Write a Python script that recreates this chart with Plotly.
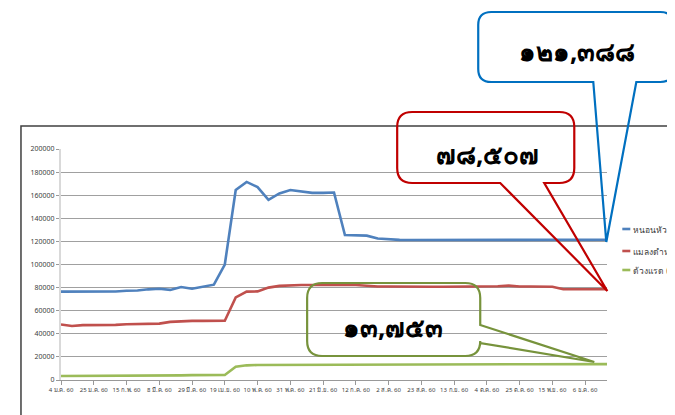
import pandas as pd
import plotly.graph_objects as go

# ---------------- data ----------------
series_names = ["หนอนหัวดำ (ไร่)", "แมลงดำหนาม (ไร่)", "ด้วงแรด (ไร่)"]
series_colors = ["#4F81BD", "#C0504D", "#9BBB59"]

dates = pd.date_range("2017-01-04", periods=51, freq="7D")

blue_vals = [76500, 76500, 76500, 76500, 76500, 76600, 77300, 77500, 78500, 79000,
             78000, 80500, 79000, 81000, 82500, 100000, 164500, 171500, 167000, 156000,
             161500, 164500, 163500, 162000, 162000, 162300, 125500, 125000, 125000, 122500,
             121800, 121300, 121200, 121200, 121200, 121300, 121300, 121300, 121400, 121400,
             121500, 121700, 121600, 121500, 121500, 121500, 121400, 121400, 121400, 121400,
             121388]
red_vals = [48000, 46800, 47500, 47500, 47600, 47700, 48300, 48600, 48700, 48800,
            50300, 51000, 51200, 51200, 51200, 51300, 71500, 76500, 76700, 80000,
            81500, 82000, 82200, 82300, 82500, 82500, 82500, 82300, 81500, 81000,
            81000, 80800, 80800, 80800, 80800, 80800, 80800, 80900, 81000, 81100,
            81200, 81700, 81000, 81000, 81000, 80800, 78600, 78507, 78507, 78507,
            78507]
green_vals = [3500, 3500, 3500, 3500, 3500, 3500, 3500, 3500, 3500, 3500,
              3600, 4000, 4200, 4300, 4300, 4400, 11500, 12700, 13000, 13000,
              13000, 13100, 13100, 13100, 13100, 13100, 13100, 13100, 13100, 13200,
              13200, 13200, 13200, 13200, 13200, 13200, 13200, 13200, 13200, 13300,
              13300, 13400, 13600, 13700, 13700, 13700, 13700, 13750, 13750, 13753,
              13753]

tick_dates = pd.date_range("2017-01-04", periods=17, freq="21D")
tick_labels = ["4 ม.ค. 60", "25 ม.ค. 60", "15 ก.พ. 60", "8 มี.ค. 60", "29 มี.ค. 60",
               "19 เม.ย. 60", "10 พ.ค. 60", "31 พ.ค. 60", "21 มิ.ย. 60", "12 ก.ค. 60",
               "2 ส.ค. 60", "23 ส.ค. 60", "13 ก.ย. 60", "4 ต.ค. 60", "25 ต.ค. 60",
               "15 พ.ย. 60", "6 ธ.ค. 60"]
y_ticks = [0, 20000, 40000, 60000, 80000, 100000, 120000, 140000, 160000, 180000, 200000]

callout_texts = ["๑๒๑,๓๘๘", "๗๘,๕๐๗", "๑๓,๗๕๓"]
callout_colors = ["#0070C0", "#C00000", "#77933C"]

# ---------------- layout helpers ----------------
W, H = 675, 415
OX, OY = 8, 8            # page body offset of the figure
PL, PT, PRX, PBY = 61, 149, 606.7, 380   # plot area in screen pixels
L, T = PL - OX, PT - OY
R, B = W - (PRX - OX), H - (PBY - OY)
PW, PH = PRX - PL, PBY - PT


def px(x):
    return (x - PL) / PW


def py(y):
    return (PBY - y) / PH


def P(x, y):
    return f"{px(x):.5f},{py(y):.5f}"


def bubble(x0, y0, x1, y1, r, side, a, b, tip):
    s = f"M{P(x0 + r, y0)} L{P(x1 - r, y0)} Q{P(x1, y0)} {P(x1, y0 + r)} "
    if side == "right":
        s += f"L{P(x1, a)} L{P(*tip)} L{P(x1, b)} "
    s += f"L{P(x1, y1 - r)} Q{P(x1, y1)} {P(x1 - r, y1)} "
    if side == "bottom":
        s += f"L{P(b, y1)} L{P(*tip)} L{P(a, y1)} "
    s += f"L{P(x0 + r, y1)} Q{P(x0, y1)} {P(x0, y1 - r)} "
    s += f"L{P(x0, y0 + r)} Q{P(x0, y0)} {P(x0 + r, y0)} Z"
    return s


fig = go.Figure()
for name, vals, col in zip(series_names, [blue_vals, red_vals, green_vals], series_colors):
    fig.add_trace(go.Scatter(x=dates, y=vals, mode="lines", name=name,
                             line=dict(color=col, width=2.6), showlegend=False))

shapes = []
annotations = []

# chart-area frame (extends beyond view)
shapes.append(dict(type="path", xref="paper", yref="paper",
                   path=f"M{P(21, 440)} L{P(21, 126)} L{P(720, 126)}",
                   line=dict(color="#404040", width=1.5)))

bubbles = [
    (478, 12, 673, 82, 13, "bottom", 593, 636, (606, 242)),
    (397, 112, 574, 183, 15, "bottom", 500, 544, (607, 291)),
    (307, 283, 480, 356, 15, "right", 325, 343, (594, 362)),
]
text_pos = [(577, 51), (487, 154), (393, 327)]
for bb, col, txt, tp in zip(bubbles, callout_colors, callout_texts, text_pos):
    shapes.append(dict(type="path", xref="paper", yref="paper", path=bubble(*bb),
                       line=dict(color=col, width=2.2), fillcolor="rgba(0,0,0,0)"))
    annotations.append(dict(xref="paper", yref="paper", x=px(tp[0]), y=py(tp[1]),
                            text=f"<b>{txt}</b>", showarrow=False,
                            font=dict(size=26, color="#000000", family="Noto Sans, sans-serif"),
                            xanchor="center", yanchor="middle"))

# legend (manual, clipped by the view like the original)
leg_y = [229, 251, 270]
for name, col, ly in zip(series_names, series_colors, leg_y):
    shapes.append(dict(type="line", xref="paper", yref="paper",
                       x0=px(622), x1=px(630), y0=py(ly), y1=py(ly),
                       line=dict(color=col, width=2.6)))
    annotations.append(dict(xref="paper", yref="paper", x=px(631), y=py(ly),
                            text=name, showarrow=False, xanchor="left", yanchor="middle",
                            font=dict(size=8.5, color="#404040", family="Noto Sans, sans-serif")))

fig.update_layout(
    width=W, height=H,
    margin=dict(l=L, r=R, t=T, b=B, pad=0),
    paper_bgcolor="white", plot_bgcolor="white",
    shapes=shapes, annotations=annotations,
    font=dict(family="Noto Sans, sans-serif", color="#404040"),
)
fig.update_xaxes(range=[dates[0], dates[-1]], tickvals=tick_dates, ticktext=tick_labels,
                 tickangle=0, tickfont=dict(size=6, color="#404040"),
                 ticks="outside", ticklen=4, tickcolor="#999999",
                 showline=True, linecolor="#999999", linewidth=1, showgrid=False,
                 zeroline=False)
fig.update_yaxes(range=[0, 200000], tickvals=y_ticks, tickformat="d",
                 tickfont=dict(size=7, color="#404040"),
                 ticks="outside", ticklen=3, tickcolor="#999999",
                 showgrid=True, gridcolor="#A0A0A0", gridwidth=1,
                 showline=True, linecolor="#D9D9D9", linewidth=2, zeroline=False)

fig.write_html("out.html")
